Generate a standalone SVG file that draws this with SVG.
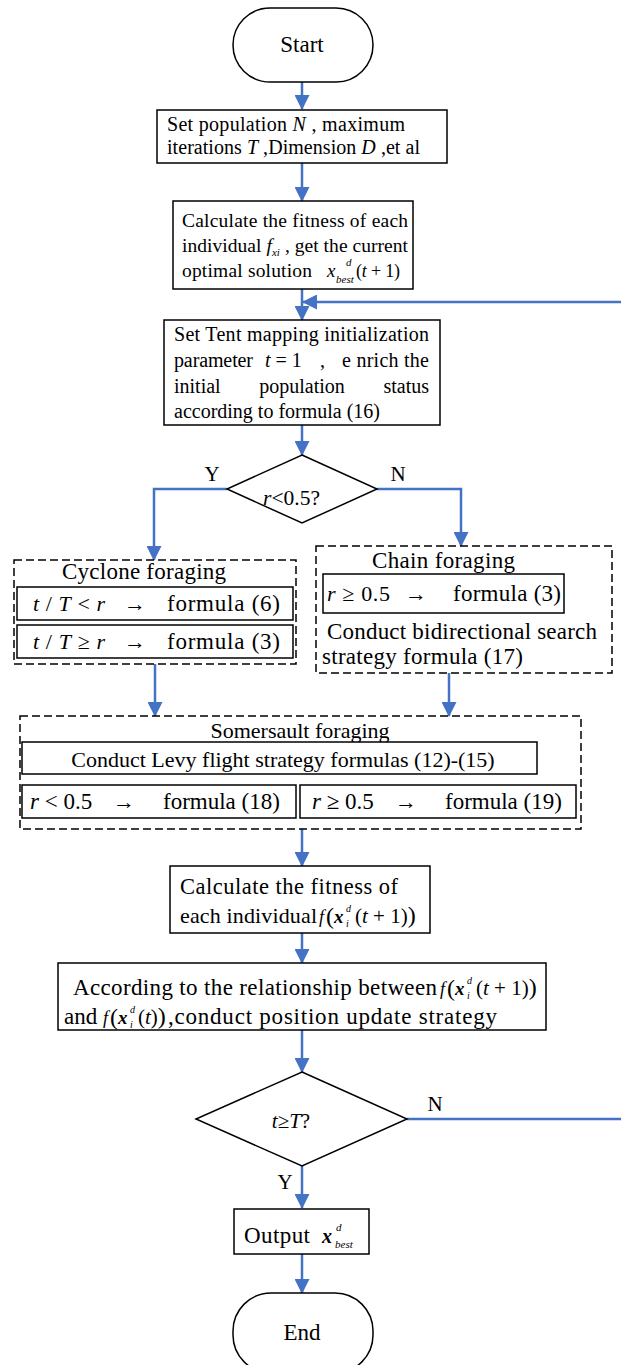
<svg xmlns="http://www.w3.org/2000/svg" width="621" height="1365" viewBox="0 0 621 1365">
<style>
.t{font-family:"Liberation Serif","Times New Roman",serif;font-size:20px;fill:#000}
.i{font-style:italic}
.bi{font-style:italic;font-weight:bold}
.box{fill:#fff;stroke:#000;stroke-width:1.5}
.dash{fill:none;stroke:#000;stroke-width:1.5;stroke-dasharray:8,4}
.c{fill:none;stroke:#4472C4;stroke-width:2.5}
</style>
<defs>
<marker id="ah" markerUnits="userSpaceOnUse" markerWidth="15" markerHeight="15" refX="14" refY="7.5" orient="auto">
<path d="M0,0 L15,7.5 L0,15 z" fill="#4472C4"/>
</marker>
</defs>
<rect width="621" height="1365" fill="#fff"/>

<g id="connectors">
<path class="c" d="M302,82 V109" marker-end="url(#ah)"/>
<path class="c" d="M302,163 V201" marker-end="url(#ah)"/>
<path class="c" d="M302,289 V320" marker-end="url(#ah)"/>
<path class="c" d="M302,425 V455" marker-end="url(#ah)"/>
<path class="c" d="M227,489 H154 V560" marker-end="url(#ah)"/>
<path class="c" d="M377,489 H461 V546" marker-end="url(#ah)"/>
<path class="c" d="M155,664 V716" marker-end="url(#ah)"/>
<path class="c" d="M449,673 V716" marker-end="url(#ah)"/>
<path class="c" d="M302,829 V866" marker-end="url(#ah)"/>
<path class="c" d="M302,933 V963" marker-end="url(#ah)"/>
<path class="c" d="M302,1030 V1072" marker-end="url(#ah)"/>
<path class="c" d="M302,1166 V1208" marker-end="url(#ah)"/>
<path class="c" d="M302,1254 V1293" marker-end="url(#ah)"/>
<path class="c" d="M407,1119 H630 V302 H303" marker-end="url(#ah)"/>
<text class="t" x="212" y="481" text-anchor="middle" style="font-size:21px">Y</text>
<text class="t" x="398" y="481" text-anchor="middle" style="font-size:21px">N</text>
<text class="t" x="435" y="1111" text-anchor="middle" style="font-size:21px">N</text>
<text class="t" x="285" y="1189" text-anchor="middle" style="font-size:21px">Y</text>
</g>

<g id="start">
<rect x="233" y="8" width="140" height="74" rx="37" ry="37" class="box"/>
<text class="t" x="302" y="52" text-anchor="middle" style="font-size:23px">Start</text>
</g>

<g id="init">
<rect x="157" y="110" width="290" height="53" class="box"/>
<text class="t" x="167" y="131" textLength="238" lengthAdjust="spacing">Set population <tspan class="i">N</tspan> ,  maximum</text>
<text class="t" x="167" y="154" textLength="253" lengthAdjust="spacing">iterations <tspan class="i">T</tspan> ,Dimension <tspan class="i">D</tspan> ,et al</text>
</g>

<g id="fitness0">
<rect x="173" y="201" width="240" height="88" class="box"/>
<text class="t" x="182" y="227" textLength="226" lengthAdjust="spacing" style="font-size:19.5px">Calculate the fitness of each</text>
<text class="t" x="182" y="252" textLength="226" lengthAdjust="spacing" style="font-size:19.5px">individual <tspan class="i">f</tspan><tspan class="i" dy="4" style="font-size:11px">xi</tspan><tspan dy="-4"> , get the current</tspan></text>
<text class="t" x="182" y="277" textLength="130" lengthAdjust="spacing" style="font-size:19.5px">optimal solution</text>
<text class="t i" x="327" y="277" style="font-size:19px">x</text>
<text class="t i" x="346" y="266" style="font-size:11px">d</text>
<text class="t i" x="336" y="283" style="font-size:11px">best</text>
<text class="t" x="356" y="277" textLength="44" lengthAdjust="spacing" style="font-size:18px">(<tspan class="i">t</tspan> + 1)</text>
</g>

<g id="tent">
<rect x="164" y="320" width="276" height="105" class="box"/>
<text class="t" x="174" y="341" textLength="255" lengthAdjust="spacing">Set Tent mapping initialization</text>
<text class="t" x="174" y="367" textLength="79" lengthAdjust="spacing">parameter</text>
<text class="t" x="265" y="367"><tspan class="i">t</tspan> = 1</text>
<text class="t" x="320" y="367">,</text>
<text class="t" x="342" y="367" textLength="87" lengthAdjust="spacing">e nrich the</text>
<text class="t" x="174" y="393">initial</text>
<text class="t" x="302" y="393" text-anchor="middle">population</text>
<text class="t" x="429" y="393" text-anchor="end">status</text>
<text class="t" x="174" y="418" textLength="206" lengthAdjust="spacing">according to formula (16)</text>
</g>

<g id="decision1">
<polygon points="302,455 377,489 302,523 227,489" class="box"/>
<text class="t" x="263" y="505" textLength="57" lengthAdjust="spacingAndGlyphs" style="font-size:21px"><tspan class="i">r</tspan>&lt;0.5?</text>
</g>

<g id="cyclone">
<rect x="14" y="560" width="282" height="104" class="dash"/>
<text class="t" x="62" y="579" textLength="164" lengthAdjust="spacing" style="font-size:23px">Cyclone foraging</text>
<rect x="17" y="587" width="276" height="33" class="box"/>
<text class="t" x="33" y="611" textLength="72" lengthAdjust="spacing" style="font-size:22px"><tspan class="i">t</tspan> / <tspan class="i">T</tspan> &lt; <tspan class="i">r</tspan></text>
<text class="t" x="124" y="611" style="font-size:22px">→</text>
<text class="t" x="167" y="611" textLength="113" lengthAdjust="spacing" style="font-size:23px">formula (6)</text>
<rect x="17" y="625" width="276" height="33" class="box"/>
<text class="t" x="33" y="649" textLength="72" lengthAdjust="spacing" style="font-size:22px"><tspan class="i">t</tspan> / <tspan class="i">T</tspan> ≥ <tspan class="i">r</tspan></text>
<text class="t" x="124" y="649" style="font-size:22px">→</text>
<text class="t" x="167" y="649" textLength="113" lengthAdjust="spacing" style="font-size:23px">formula (3)</text>
</g>

<g id="chain">
<rect x="316" y="546" width="296" height="127" class="dash"/>
<text class="t" x="372" y="568" textLength="143" lengthAdjust="spacing" style="font-size:23px">Chain foraging</text>
<rect x="323" y="574" width="241" height="39" class="box"/>
<text class="t" x="327" y="601" textLength="63" lengthAdjust="spacing" style="font-size:22px"><tspan class="i">r</tspan> ≥ 0.5</text>
<text class="t" x="405" y="601" style="font-size:22px">→</text>
<text class="t" x="453" y="601" textLength="108" lengthAdjust="spacing" style="font-size:23px">formula (3)</text>
<text class="t" x="327" y="639" textLength="270" lengthAdjust="spacing" style="font-size:23px">Conduct bidirectional search</text>
<text class="t" x="322" y="664" textLength="201" lengthAdjust="spacing" style="font-size:23px">strategy formula (17)</text>
</g>

<g id="somersault">
<rect x="20" y="716" width="561" height="113" class="dash"/>
<text class="t" x="300" y="738" text-anchor="middle" style="font-size:22px">Somersault foraging</text>
<rect x="22" y="742" width="515" height="32" class="box"/>
<text class="t" x="283" y="767" text-anchor="middle" style="font-size:22px">Conduct Levy flight strategy formulas (12)-(15)</text>
<rect x="22" y="785" width="274" height="33" class="box"/>
<text class="t" x="30" y="809" style="font-size:23px"><tspan class="i">r</tspan> &lt; 0.5</text>
<text class="t" x="113" y="809" style="font-size:22px">→</text>
<text class="t" x="163" y="809" style="font-size:23px">formula (18)</text>
<rect x="300" y="785" width="276" height="33" class="box"/>
<text class="t" x="312" y="809" style="font-size:23px"><tspan class="i">r</tspan> ≥ 0.5</text>
<text class="t" x="395" y="809" style="font-size:22px">→</text>
<text class="t" x="445" y="809" style="font-size:23px">formula (19)</text>
</g>

<g id="fitness1">
<rect x="170" y="866" width="260" height="67" class="box"/>
<text class="t" x="180" y="894" textLength="218" lengthAdjust="spacing" style="font-size:22.5px">Calculate the fitness of</text>
<text class="t" x="180" y="923" textLength="137" lengthAdjust="spacing" style="font-size:22px">each individual</text>
<text class="t i" x="319" y="923" style="font-size:18px">f</text>
<text class="t" x="326" y="924" style="font-size:24px">(</text>
<text class="t bi" x="334" y="923" style="font-size:19px">x</text>
<text class="t i" x="346" y="912" style="font-size:10px">d</text>
<text class="t i" x="346" y="927" style="font-size:10px">i</text>
<text class="t" x="355" y="923" style="font-size:21px">(<tspan class="i">t</tspan> + 1)<tspan style="font-size:24px">)</tspan></text>
</g>

<g id="update">
<rect x="58" y="963" width="488" height="67" class="box"/>
<text class="t" x="73" y="995" textLength="364" lengthAdjust="spacing" style="font-size:23px">According to the relationship between</text>
<text class="t i" x="440" y="995" style="font-size:18px">f</text>
<text class="t" x="447" y="996" style="font-size:24px">(</text>
<text class="t bi" x="455" y="995" style="font-size:19px">x</text>
<text class="t i" x="467" y="984" style="font-size:10px">d</text>
<text class="t i" x="467" y="999" style="font-size:10px">i</text>
<text class="t" x="476" y="995" style="font-size:21px">(<tspan class="i">t</tspan> + 1)<tspan style="font-size:24px">)</tspan></text>
<text class="t" x="64" y="1024" style="font-size:23px">and</text>
<text class="t i" x="103" y="1024" style="font-size:18px">f</text>
<text class="t" x="110" y="1025" style="font-size:24px">(</text>
<text class="t bi" x="118" y="1024" style="font-size:19px">x</text>
<text class="t i" x="130" y="1013" style="font-size:10px">d</text>
<text class="t i" x="130" y="1028" style="font-size:10px">i</text>
<text class="t" x="138" y="1024" style="font-size:21px">(<tspan class="i">t</tspan>)<tspan style="font-size:24px">)</tspan></text>
<text class="t" x="168" y="1024" textLength="329" lengthAdjust="spacing" style="font-size:23px">,conduct position update strategy</text>
</g>

<g id="decision2">
<polygon points="302,1072 407,1119 302,1166 196,1119" class="box"/>
<text class="t" x="291" y="1128" text-anchor="middle" style="font-size:21px"><tspan class="i">t</tspan>≥<tspan class="i">T</tspan>?</text>
</g>

<g id="output">
<rect x="234" y="1209" width="135" height="45" class="box"/>
<text class="t" x="244" y="1243" textLength="66" lengthAdjust="spacing" style="font-size:23px">Output</text>
<text class="t bi" x="322" y="1243" style="font-size:20px">x</text>
<text class="t i" x="336" y="1231" style="font-size:11px">d</text>
<text class="t i" x="335" y="1248" style="font-size:11px">best</text>
</g>

<g id="end">
<rect x="233" y="1293" width="140" height="80" rx="38" ry="38" class="box"/>
<text class="t" x="302" y="1340" text-anchor="middle" style="font-size:23px">End</text>
</g>
</svg>
